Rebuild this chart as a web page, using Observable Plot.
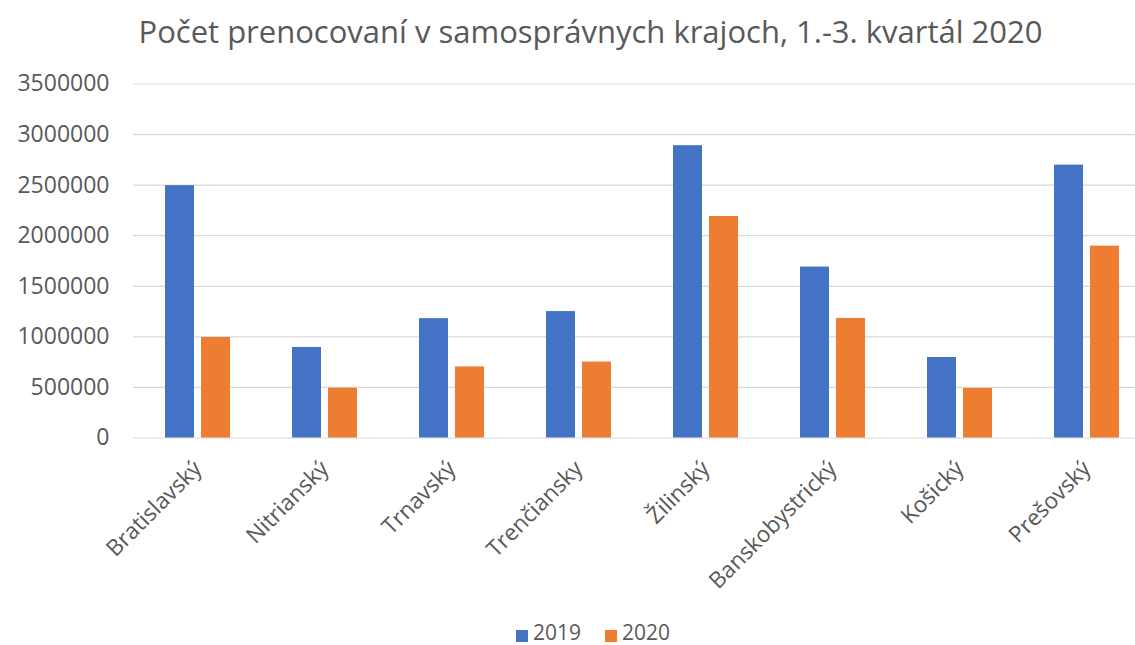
<!DOCTYPE html>
<html><head><meta charset="utf-8">
<script src="https://cdn.jsdelivr.net/npm/d3@7"></script>
<script src="https://cdn.jsdelivr.net/npm/@observablehq/plot@0.6"></script>
<style>
html,body{margin:0;padding:0;background:#fff;overflow:hidden}
#wrap{position:relative;width:1135px;height:645px;font-family:"Open Sans",sans-serif;color:#595959}
#title{position:absolute;left:0;top:10px;width:1181px;text-align:center;font-size:31px;white-space:nowrap;color:#595959}
#chart{position:absolute;left:0;top:0}
#legend{position:absolute;left:516px;top:622px;font-size:21px;line-height:21px;white-space:nowrap}
#legend span.sw{display:inline-block;width:12px;height:12px;margin-right:5px;vertical-align:-2px}
#legend span.item{margin-right:24px}
</style></head><body>
<div id="wrap"><div id="title"></div><div id="chart"></div><div id="legend"></div></div>
<script>
const titleText = "Počet prenocovaní v samosprávnych krajoch, 1.-3. kvartál 2020";
const regions = ["Bratislavský","Nitrianský","Trnavský","Trenčiansky","Žilinský","Banskobystrický","Košický","Prešovský"];
const values2019 = [2495000, 895000, 1180000, 1250000, 2890000, 1690000, 796000, 2698000];
const values2020 = [994000, 493000, 703000, 751000, 2190000, 1182000, 490000, 1897000];
const years = ["2019","2020"];
const colors = ["#4472C4","#ED7D31"];
const yTicks = [0,500000,1000000,1500000,2000000,2500000,3000000,3500000];

document.getElementById("title").textContent = titleText;

const d19 = regions.map((r,i)=>({region:r, year:years[0], value:values2019[i]}));
const d20 = regions.map((r,i)=>({region:r, year:years[1], value:values2020[i]}));

const chart = Plot.plot({
  width: 1135,
  height: 645,
  marginLeft: 133,
  marginRight: 0,
  marginTop: 83.5,
  marginBottom: 207.5,
  style: {fontFamily: "Open Sans", background: "transparent", color: "#595959", overflow: "visible"},
  x: {type: "band", domain: regions, range: [133.5, 1149.5], padding: 0, label: null},
  y: {domain: [0, 3500000], label: null},
  marks: [
    Plot.ruleY(yTicks, {stroke: "#d9d9d9", strokeWidth: 1.2}),
    Plot.barY(d19, {x: "region", y: "value", fill: colors[0], insetLeft: 49, insetRight: 49, dx: -18}),
    Plot.barY(d20, {x: "region", y: "value", fill: colors[1], insetLeft: 49, insetRight: 49, dx: 18}),
    Plot.axisY({ticks: yTicks, tickFormat: d => String(d), tickSize: 0, tickPadding: 24, fontSize: 23, fill: "#595959", label: null}),
    Plot.axisX({tickRotate: -45, tickSize: 0, tickPadding: 27, fontSize: 22.5, fill: "#595959", label: null})
  ]
});
document.getElementById("chart").appendChild(chart);

const lg = document.getElementById("legend");
years.forEach((y,i)=>{
  const it = document.createElement("span"); it.className="item";
  const sw = document.createElement("span"); sw.className="sw"; sw.style.background = colors[i];
  it.appendChild(sw); it.appendChild(document.createTextNode(y));
  lg.appendChild(it);
});
</script>
</body></html>
